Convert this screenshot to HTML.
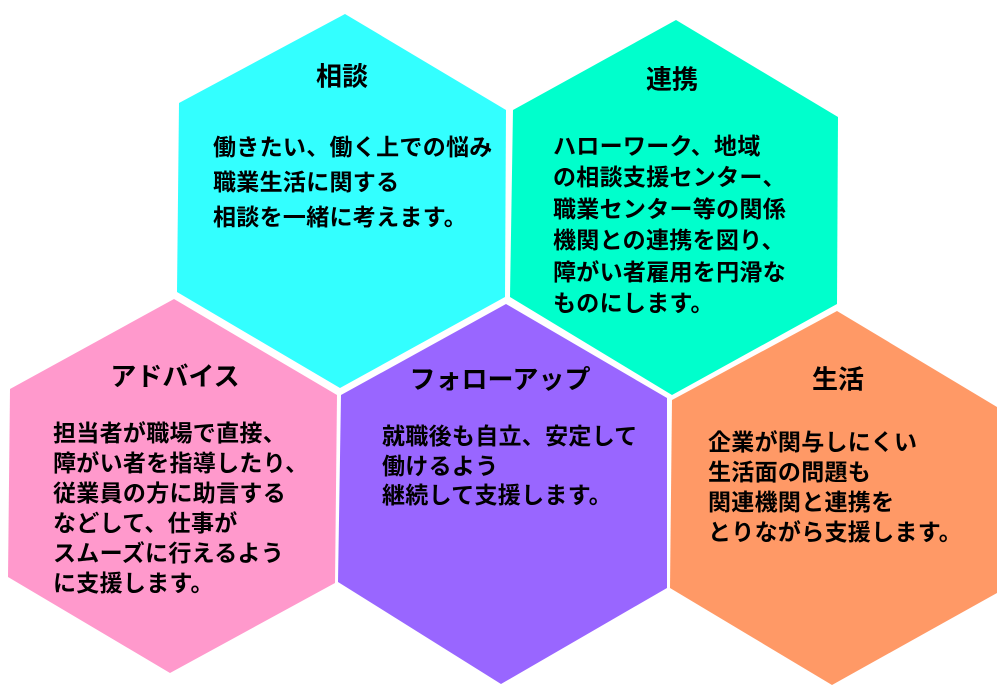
<!DOCTYPE html>
<html><head><meta charset="utf-8">
<style>
html,body{margin:0;padding:0;background:#fff;}
body{width:1000px;height:700px;position:relative;overflow:hidden;font-family:"Liberation Sans","Noto Sans CJK JP",sans-serif;color:#000;}
svg{position:absolute;left:0;top:0;}
.t{position:absolute;font-size:26px;font-weight:bold;transform:translate(-50%,-50%);white-space:nowrap;}
.b{position:absolute;font-size:23px;font-weight:bold;white-space:nowrap;letter-spacing:0.3px;}
</style></head><body>
<svg width="1000" height="700">
<polygon points="345,14 506,110 505,297 340,388 177,292 179,103" fill="#33FFFF"/>
<polygon points="676,20 838,117 837,304 672,395 510,297 513,110" fill="#00FFCC"/>
<polygon points="174,299 337,395 335,583 170,673 8,577 10,389" fill="#FF99CC"/>
<polygon points="506,304 667,398 667,588 501,684 338,582 341,395" fill="#9966FF"/>
<polygon points="837,311 997,407 997,593 832,685 670,588 672,400" fill="#FF9966"/>
</svg>
<div class="t" style="left:342px;top:75px">相談</div>
<div class="t" style="left:672px;top:78px">連携</div>
<div class="t" style="left:175px;top:375px">アドバイス</div>
<div class="t" style="left:500px;top:378px">フォローアップ</div>
<div class="t" style="left:838px;top:378px">生活</div>
<div class="b" style="left:213px;top:130px;line-height:35px">働きたい、働く上での悩み<br>職業生活に関する<br>相談を一緒に考えます。</div>
<div class="b" style="left:553px;top:131px;line-height:31.4px">ハローワーク、地域<br>の相談支援センター、<br>職業センター等の関係<br>機関との連携を図り、<br>障がい者雇用を円滑な<br>ものにします。</div>
<div class="b" style="left:53px;top:418px;line-height:30px">担当者が職場で直接、<br>障がい者を指導したり、<br>従業員の方に助言する<br>などして、仕事が<br>スムーズに行えるよう<br>に支援します。</div>
<div class="b" style="left:382px;top:422px;line-height:29.5px">就職後も自立、安定して<br>働けるよう<br>継続して支援します。</div>
<div class="b" style="left:708px;top:427px;line-height:30px">企業が関与しにくい<br>生活面の問題も<br>関連機関と連携を<br>とりながら支援します。</div>
</body></html>
